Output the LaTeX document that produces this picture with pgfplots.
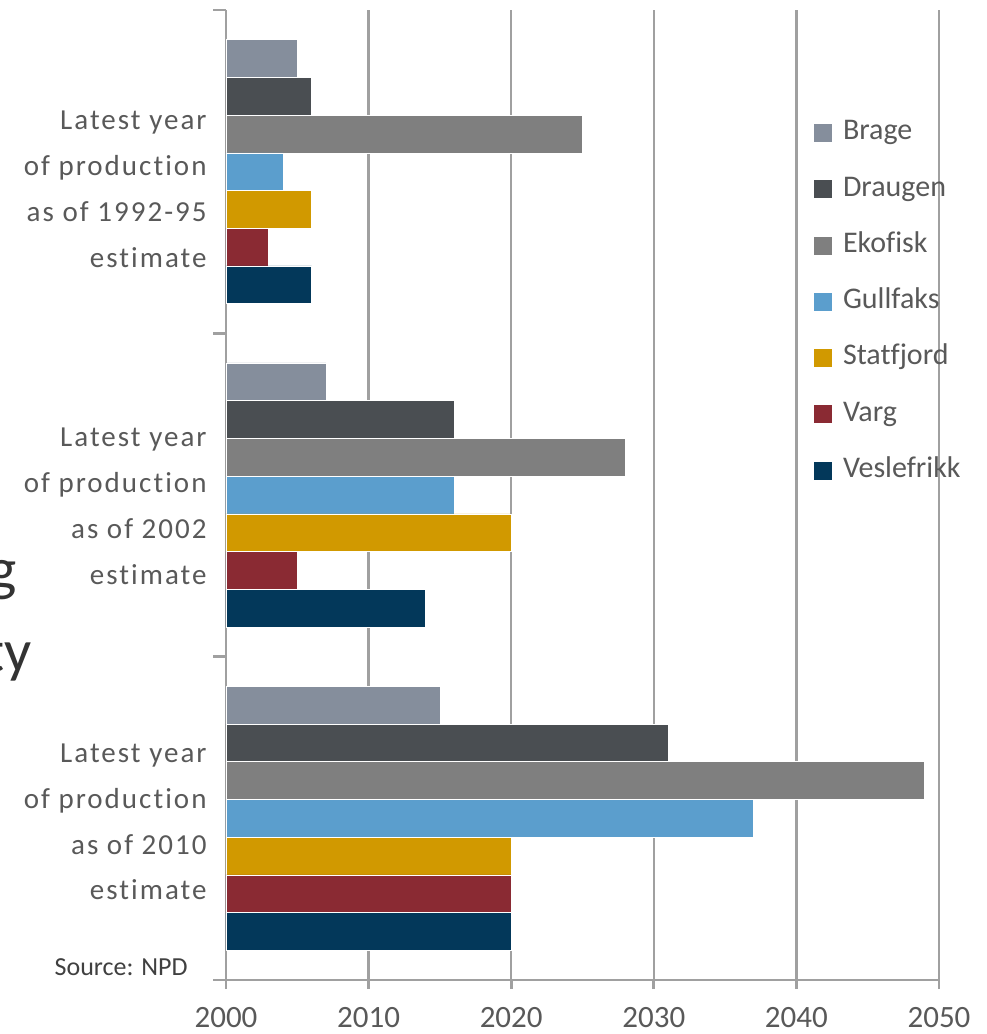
\documentclass[border=0pt]{standalone}
\usepackage{pgfplots}
\pgfplotsset{compat=1.18}
\usepackage{fontspec}
\setmainfont{Carlito}[Ligatures=NoCommon]
\newfontfamily\ylabfont{Carlito}[LetterSpace=7, Ligatures=NoCommon]
\definecolor{cBrage}{HTML}{858E9C}
\definecolor{cDraugen}{HTML}{4A4E52}
\definecolor{cEkofisk}{HTML}{7F7F7F}
\definecolor{cGullfaks}{HTML}{5B9ECD}
\definecolor{cStatfjord}{HTML}{D19900}
\definecolor{cVarg}{HTML}{8A2A33}
\definecolor{cVeslefrikk}{HTML}{03385A}
\definecolor{labgray}{HTML}{595959}
\definecolor{axgray}{HTML}{A0A0A0}
\definecolor{srcgray}{HTML}{404040}
\definecolor{titlegray}{HTML}{333333}
\begin{document}
\begin{tikzpicture}
\useasboundingbox (0,0) rectangle (493pt,517pt);
\begin{axis}[
  at={(113pt,27pt)}, anchor=south west,
  scale only axis, width=356.5pt, height=485pt,
  xmin=2000, xmax=2050, ymin=-0.5, ymax=2.5, y dir=reverse,
  axis lines*=left,
  axis line style={draw=axgray, line width=1.4pt},
  xtick={2000,2010,2020,2030,2040,2050},
  xticklabels={2000,2010,2020,2030,2040,2050},
  xticklabel style={font=\fontsize{15.5}{18}\selectfont, text=labgray, inner sep=0pt, anchor=north, text height=10pt, text depth=0pt, yshift=-9pt},
  xmajorgrids,
  grid style={draw=axgray, line width=1.2pt},
  ytick={0.055,1.035,2.011},
  yticklabels={{Latest year\\of production\\as of 1992-95\\estimate},{Latest year\\of production\\as of 2002\\estimate},{Latest year\\of production\\as of 2010\\estimate}},
  yticklabel style={font=\ylabfont\fontsize{14.5}{22.9}\selectfont, text=labgray, align=right, inner sep=0pt, anchor=east, xshift=-5pt},
  every major y tick/.append style={draw=none},
  minor ytick={-0.5,0.5,1.5,2.5},
  minor tick length=6.5pt, major tick length=4.5pt, tick align=outside,
  tick style={draw=axgray, line width=1.4pt},
  xbar, bar width=0.1167,
  legend cell align=left,
  legend image code/.code={\fill[#1] (0pt,-4.75pt) rectangle (9.5pt,4.75pt);},
  legend style={at={(0.8233,0.8873)}, anchor=north west, draw=none, fill=none, inner sep=0pt,
    row sep=15.15pt, column sep=5pt, font=\fontsize{15}{18}\selectfont, text=labgray,
    nodes={inner sep=0pt, text height=10pt, text depth=3pt}},
]
\addplot[fill=cBrage, draw=white, line width=0.3pt, bar shift=-0.35] coordinates {(2005,0) (2007,1) (2015,2)};
\addlegendentry{Brage}
\addplot[fill=cDraugen, draw=white, line width=0.3pt, bar shift=-0.2333] coordinates {(2006,0) (2016,1) (2031,2)};
\addlegendentry{Draugen}
\addplot[fill=cEkofisk, draw=white, line width=0.3pt, bar shift=-0.1167] coordinates {(2025,0) (2028,1) (2049,2)};
\addlegendentry{Ekofisk}
\addplot[fill=cGullfaks, draw=white, line width=0.3pt, bar shift=0] coordinates {(2004,0) (2016,1) (2037,2)};
\addlegendentry{Gullfaks}
\addplot[fill=cStatfjord, draw=white, line width=0.3pt, bar shift=0.1167] coordinates {(2006,0) (2020,1) (2020,2)};
\addlegendentry{Statfjord}
\addplot[fill=cVarg, draw=white, line width=0.3pt, bar shift=0.2333] coordinates {(2003,0) (2005,1) (2020,2)};
\addlegendentry{Varg}
\addplot[fill=cVeslefrikk, draw=white, line width=0.3pt, bar shift=0.35] coordinates {(2006,0) (2014,1) (2020,2)};
\addlegendentry{Veslefrikk}
\end{axis}
\node[anchor=base east, inner sep=0pt, font=\fontsize{13}{15}\selectfont, text=srcgray] at (94pt,29pt) {Source: NPD};
\node[anchor=base east, inner sep=0pt, font=\fontsize{30}{36}\selectfont, text=titlegray] at (8.5pt,222pt) {g};
\node[anchor=base east, inner sep=0pt, font=\fontsize{30}{36}\selectfont, text=titlegray] at (16pt,181pt) {ty};
\end{tikzpicture}
\end{document}
